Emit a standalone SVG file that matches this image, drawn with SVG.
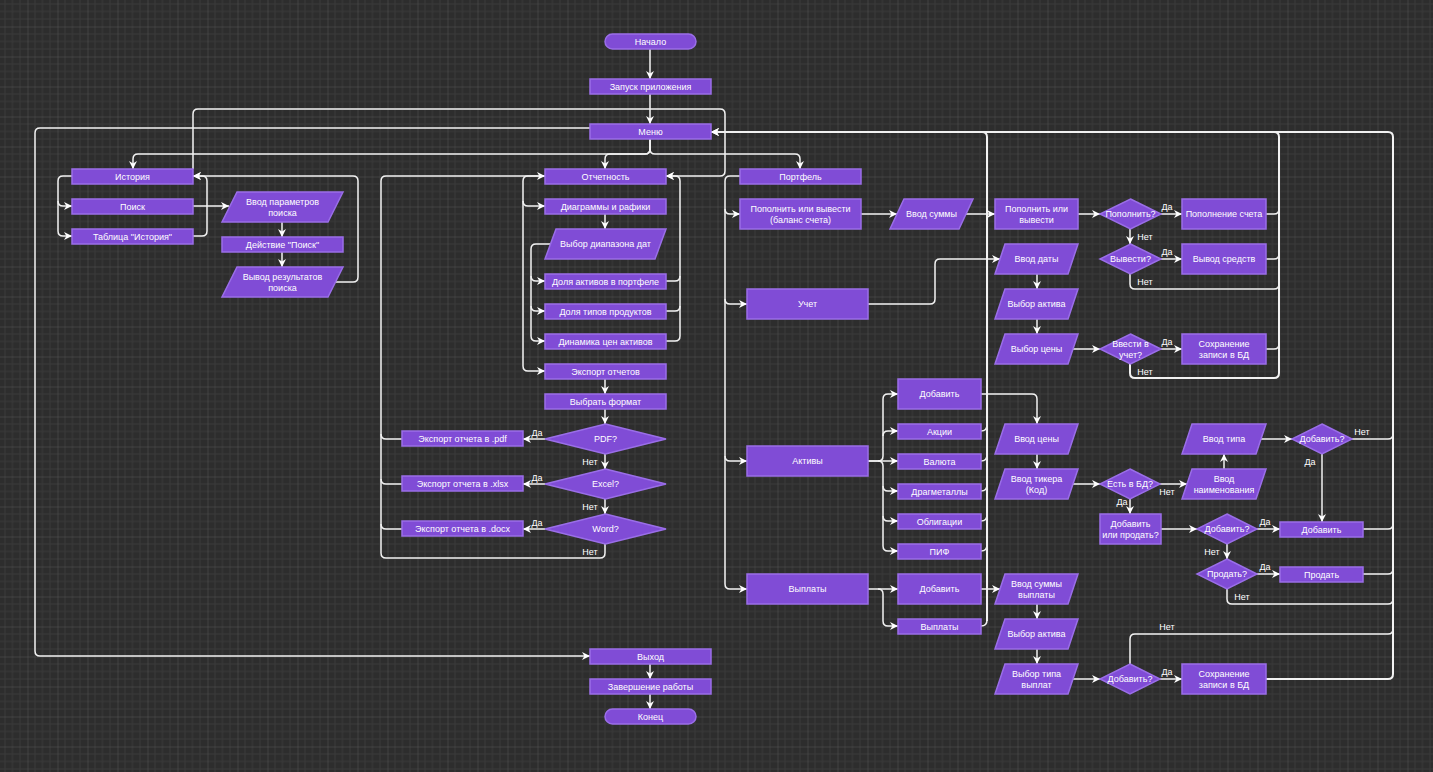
<svg xmlns="http://www.w3.org/2000/svg" width="1433" height="772" viewBox="0 0 1433 772">
<defs>
<pattern id="g" width="30" height="30" patternUnits="userSpaceOnUse" patternTransform="translate(27.5,26.5)">
<rect width="30" height="30" fill="#2d2d2d"/>
<path d="M7.5,0V30M15,0V30M22.5,0V30M0,7.5H30M0,15H30M0,22.5H30" stroke="#3a3a3a" stroke-width="1"/>
<path d="M0,0V30M0,0H30" stroke="#555" stroke-width="1"/>
</pattern>
<marker id="a" viewBox="0 0 10 10" refX="10" refY="5" markerWidth="8" markerHeight="8" markerUnits="userSpaceOnUse" orient="auto">
<path d="M0,0 L10,5 L0,10 L3,5 z" fill="#fff"/>
</marker>
<style>
.n{fill:#804cd6;stroke:#9a6ee8;stroke-width:1.5}
.t{font-family:"Liberation Sans",Arial,sans-serif;font-size:9px;fill:#fff;text-anchor:middle}
.l{font-family:"Liberation Sans",Arial,sans-serif;font-size:9px;fill:#fff;text-anchor:middle}
.c path{fill:none;stroke:#f2f2f2;stroke-width:1.5}
.c path.m{marker-end:url(#a)}
</style>
</defs>
<rect width="1433" height="772" fill="url(#g)"/>

<g class="c" id="connectors">
<path class="m" d="M650,49 L650,79"/>
<path class="m" d="M650,94 L650,124"/>
<path class="m" d="M650,139 L650,149 Q650,154 645,154 L138,154 Q133,154 133,159 L133,169"/>
<path class="m" d="M650,139 L650,149 Q650,154 645,154 L610,154 Q605,154 605,159 L605,169"/>
<path class="m" d="M650,139 L650,149 Q650,154 655,154 L795,154 Q800,154 800,159 L800,169"/>
<path class="m" d="M590,128 L40,128 Q35,128 35,133 L35,651 Q35,656 40,656 L590,656"/>
<path class="m" d="M193,169 L193,114 Q193,109 198,109 L720,109 Q725,109 725,114 L725,171 Q725,176 720,176 L666,176"/>
<path class="m" d="M987,621 L987,137 Q987,132 982,132 L711,132" style="stroke-width:2"/>
<path d="M981,431 Q987,431 987,425"/>
<path d="M981,461 Q987,461 987,455"/>
<path d="M981,491 Q987,491 987,485"/>
<path d="M981,521 Q987,521 987,515"/>
<path d="M981,551 Q987,551 987,545"/>
<path d="M981,626 Q987,626 987,620"/>
<path class="m" d="M1130,364 L1130,373 Q1130,378 1135,378 L1274,378 Q1279,378 1279,373 L1279,137 Q1279,132 1274,132 L711,132" style="stroke-width:2"/>
<path d="M1266,214 L1274,214 Q1279,214 1279,209"/>
<path d="M1266,259 L1274,259 Q1279,259 1279,254"/>
<path d="M1130,274 L1130,284 Q1130,289 1135,289 L1274,289 Q1279,289 1279,284"/>
<path d="M1266,349 L1274,349 Q1279,349 1279,344"/>
<path class="m" d="M1266,679 L1388,679 Q1393,679 1393,674 L1393,137 Q1393,132 1388,132 L711,132" style="stroke-width:2"/>
<path d="M1352,439 L1388,439 Q1393,439 1393,434"/>
<path d="M1363,529 L1388,529 Q1393,529 1393,524"/>
<path d="M1363,574 L1388,574 Q1393,574 1393,569"/>
<path d="M1227,589 L1227,599 Q1227,604 1232,604 L1388,604 Q1393,604 1393,599"/>
<path d="M1130,664 L1130,639 Q1130,634 1135,634 L1388,634 Q1393,634 1393,629"/>

<path class="m" d="M740,176 L730,176 Q725,176 725,181 L725,209 Q725,214 730,214 L740,214"/>
<path class="m" d="M725,209 L725,299 Q725,304 730,304 L747,304"/>
<path class="m" d="M725,299 L725,456 Q725,461 730,461 L747,461"/>
<path class="m" d="M725,456 L725,584 Q725,589 730,589 L747,589"/>
<path class="m" d="M861,214 L897,214"/>
<path class="m" d="M966,214 L995,214"/>
<path class="m" d="M1078,214 L1100,214"/>
<path class="m" d="M1161,214 L1182,214"/>
<path class="m" d="M1130,229 L1130,244"/>
<path class="m" d="M1161,259 L1182,259"/>
<path class="m" d="M868,304 L930,304 Q935,304 935,299 L935,264 Q935,259 940,259 L1000,259"/>
<path class="m" d="M1037,274 L1037,289"/>
<path class="m" d="M1037,319 L1037,334"/>
<path class="m" d="M1073,349 L1100,349"/>
<path class="m" d="M1161,349 L1182,349"/>

<path class="m" d="M868,461 L878,461 Q883,461 883,456 L883,399 Q883,394 888,394 L898,394"/>
<path class="m" d="M883,436 Q883,431 888,431 L898,431"/>
<path class="m" d="M868,461 L898,461"/>
<path class="m" d="M878,461 Q883,461 883,466 L883,486 Q883,491 888,491 L898,491"/>
<path class="m" d="M883,486 L883,516 Q883,521 888,521 L898,521"/>
<path class="m" d="M883,516 L883,546 Q883,551 888,551 L898,551"/>
<path class="m" d="M981,394 L1032,394 Q1037,394 1037,399 L1037,424"/>
<path class="m" d="M1037,454 L1037,469"/>
<path class="m" d="M1073,484 L1100,484"/>
<path class="m" d="M1160,484 L1187,484"/>
<path class="m" d="M1130,499 L1130,514"/>
<path class="m" d="M1224,469 L1224,454"/>
<path class="m" d="M1261,439 L1292,439"/>
<path class="m" d="M1322,454 L1322,522"/>
<path class="m" d="M1161,529 L1197,529"/>
<path class="m" d="M1257,529 L1280,529"/>
<path class="m" d="M1227,544 L1227,559"/>
<path class="m" d="M1257,574 L1280,574"/>

<path class="m" d="M868,589 L898,589"/>
<path class="m" d="M878,589 Q883,589 883,594 L883,621 Q883,626 888,626 L898,626"/>
<path class="m" d="M981,589 L1000,589"/>
<path class="m" d="M1037,604 L1037,619"/>
<path class="m" d="M1037,649 L1037,664"/>
<path class="m" d="M1073,679 L1100,679"/>
<path class="m" d="M1160,679 L1182,679"/>

<path class="m" d="M545,176 L528,176 Q523,176 523,181 L523,201 Q523,206 528,206 L545,206"/>
<path class="m" d="M523,201 L523,366 Q523,371 528,371 L545,371"/>
<path class="m" d="M605,214 L605,229"/>
<path class="m" d="M550,244 L536,244 Q531,244 531,249 L531,276 Q531,281 536,281 L545,281"/>
<path class="m" d="M531,276 L531,306 Q531,311 536,311 L545,311"/>
<path class="m" d="M531,306 L531,336 Q531,341 536,341 L545,341"/>
<path class="m" d="M666,341 L675,341 Q680,341 680,336 L680,181 Q680,176 675,176 L666,176"/>
<path d="M666,281 L675,281 Q680,281 680,276"/>
<path d="M666,311 L675,311 Q680,311 680,306"/>
<path class="m" d="M605,379 L605,394"/>
<path class="m" d="M605,409 L605,424"/>
<path class="m" d="M545,439 L523,439"/>
<path class="m" d="M605,454 L605,469"/>
<path class="m" d="M545,484 L523,484"/>
<path class="m" d="M605,499 L605,514"/>
<path class="m" d="M545,529 L523,529"/>
<path class="m" d="M605,544 L605,553 Q605,558 600,558 L386,558 Q381,558 381,553 L381,181 Q381,176 386,176 L545,176"/>
<path d="M402,439 L386,439 Q381,439 381,434"/>
<path d="M402,484 L386,484 Q381,484 381,479"/>
<path d="M402,529 L386,529 Q381,529 381,524"/>

<path class="m" d="M72,176 L63,176 Q58,176 58,181 L58,201 Q58,206 63,206 L72,206"/>
<path class="m" d="M58,201 L58,231 Q58,236 63,236 L72,236"/>
<path class="m" d="M193,236 L202,236 Q207,236 207,231 L207,181 Q207,176 202,176 L193,176"/>
<path class="m" d="M193,206 L229,206"/>
<path class="m" d="M282,222 L282,237"/>
<path class="m" d="M282,252 L282,267"/>
<path class="m" d="M336,282 L353,282 Q358,282 358,277 L358,181 Q358,176 353,176 L193,176"/>

<path class="m" d="M650,664 L650,679"/>
<path class="m" d="M650,694 L650,709"/>
</g>

<g id="labels">
<text class="l" x="537" y="436">Да</text>
<text class="l" x="590" y="465">Нет</text>
<text class="l" x="537" y="481">Да</text>
<text class="l" x="590" y="510">Нет</text>
<text class="l" x="537" y="526">Да</text>
<text class="l" x="590" y="555">Нет</text>
<text class="l" x="1167" y="210">Да</text>
<text class="l" x="1145" y="240">Нет</text>
<text class="l" x="1167" y="255">Да</text>
<text class="l" x="1145" y="285">Нет</text>
<text class="l" x="1167" y="345">Да</text>
<text class="l" x="1145" y="375">Нет</text>
<text class="l" x="1167" y="495">Нет</text>
<text class="l" x="1122" y="505">Да</text>
<text class="l" x="1362" y="435">Нет</text>
<text class="l" x="1310" y="465">Да</text>
<text class="l" x="1265" y="525">Да</text>
<text class="l" x="1212" y="555">Нет</text>
<text class="l" x="1265" y="570">Да</text>
<text class="l" x="1242" y="600">Нет</text>
<text class="l" x="1167" y="675">Да</text>
<text class="l" x="1167" y="630">Нет</text>
</g>

<g id="start"><rect class="n" x="605" y="34" width="91" height="15" rx="7.5"/><text class="t" x="650.5" y="44.7">Начало</text></g>
<g id="launch"><rect class="n" x="590" y="79" width="121" height="15"/><text class="t" x="650.5" y="89.7">Запуск приложения</text></g>
<g id="menu"><rect class="n" x="590" y="124" width="121" height="15"/><text class="t" x="650.5" y="134.7">Меню</text></g>
<g id="history"><rect class="n" x="72" y="169" width="121" height="15"/><text class="t" x="132.5" y="179.7">История</text></g>
<g id="search"><rect class="n" x="72" y="199" width="121" height="15"/><text class="t" x="132.5" y="209.7">Поиск</text></g>
<g id="histTable"><rect class="n" x="72" y="229" width="121" height="15"/><text class="t" x="132.5" y="239.7">Таблица "История"</text></g>
<g id="searchParams"><polygon class="n" points="237,192 343,192 328,222 222,222"/><text class="t" x="282.5" y="204.5">Ввод параметров<tspan x="282.5" dy="11">поиска</tspan></text></g>
<g id="searchAction"><rect class="n" x="222" y="237" width="121" height="15"/><text class="t" x="282.5" y="247.7">Действие "Поиск"</text></g>
<g id="searchResult"><polygon class="n" points="237,267 343,267 328,297 222,297"/><text class="t" x="282.5" y="279.5">Вывод результатов<tspan x="282.5" dy="11">поиска</tspan></text></g>

<g id="reports"><rect class="n" x="545" y="169" width="121" height="15"/><text class="t" x="605.5" y="179.7">Отчетность</text></g>
<g id="charts"><rect class="n" x="545" y="199" width="121" height="15"/><text class="t" x="605.5" y="209.7">Диаграммы и рафики</text></g>
<g id="dateRange"><polygon class="n" points="556,229 666,229 655,259 545,259"/><text class="t" x="605.5" y="247.2">Выбор диапазона дат</text></g>
<g id="assetShare"><rect class="n" x="545" y="274" width="121" height="15"/><text class="t" x="605.5" y="284.7">Доля активов в портфеле</text></g>
<g id="typeShare"><rect class="n" x="545" y="304" width="121" height="15"/><text class="t" x="605.5" y="314.7">Доля типов продуктов</text></g>
<g id="priceDyn"><rect class="n" x="545" y="334" width="121" height="15"/><text class="t" x="605.5" y="344.7">Динамика цен активов</text></g>
<g id="export"><rect class="n" x="545" y="364" width="121" height="15"/><text class="t" x="605.5" y="374.7">Экспорт отчетов</text></g>
<g id="chooseFmt"><rect class="n" x="545" y="394" width="121" height="15"/><text class="t" x="605.5" y="404.7">Выбрать формат</text></g>
<g id="pdfQ"><polygon class="n" points="605.5,424 666,439 605.5,454 545,439"/><text class="t" x="605.5" y="442.2">PDF?</text></g>
<g id="excelQ"><polygon class="n" points="605.5,469 666,484 605.5,499 545,484"/><text class="t" x="605.5" y="487.2">Excel?</text></g>
<g id="wordQ"><polygon class="n" points="605.5,514 666,529 605.5,544 545,529"/><text class="t" x="605.5" y="532.2">Word?</text></g>
<g id="expPdf"><rect class="n" x="402" y="431" width="121" height="15"/><text class="t" x="462.5" y="441.7">Экспорт отчета в .pdf</text></g>
<g id="expXlsx"><rect class="n" x="402" y="476" width="121" height="15"/><text class="t" x="462.5" y="486.7">Экспорт отчета в .xlsx</text></g>
<g id="expDocx"><rect class="n" x="402" y="521" width="121" height="15"/><text class="t" x="462.5" y="531.7">Экспорт отчета в .docx</text></g>

<g id="portfolio"><rect class="n" x="740" y="169" width="121" height="15"/><text class="t" x="800.5" y="179.7">Портфель</text></g>
<g id="topupWithdraw"><rect class="n" x="740" y="199" width="121" height="30"/><text class="t" x="800.5" y="211.5">Пополнить или вывести<tspan x="800.5" dy="11">(баланс счета)</tspan></text></g>
<g id="enterSum"><polygon class="n" points="904,199 973,199 959,229 890,229"/><text class="t" x="931.5" y="217.2">Ввод суммы</text></g>
<g id="topupOrW"><rect class="n" x="995" y="199" width="83" height="30"/><text class="t" x="1036.5" y="211.5">Пополнить или<tspan x="1036.5" dy="11">вывести</tspan></text></g>
<g id="topupQ"><polygon class="n" points="1130.5,199 1161,214 1130.5,229 1100,214"/><text class="t" x="1130.5" y="217.2">Пополнить?</text></g>
<g id="topupDone"><rect class="n" x="1182" y="199" width="84" height="30"/><text class="t" x="1224" y="217.2">Пополнение счета</text></g>
<g id="withdrawQ"><polygon class="n" points="1130.5,244 1161,259 1130.5,274 1100,259"/><text class="t" x="1130.5" y="262.2">Вывести?</text></g>
<g id="withdrawDone"><rect class="n" x="1182" y="244" width="84" height="30"/><text class="t" x="1224" y="262.2">Вывод средств</text></g>
<g id="accounting"><rect class="n" x="747" y="289" width="121" height="30"/><text class="t" x="807.5" y="307.2">Учет</text></g>
<g id="enterDate"><polygon class="n" points="1005,244 1078,244 1068,274 995,274"/><text class="t" x="1036.5" y="262.2">Ввод даты</text></g>
<g id="chooseAsset1"><polygon class="n" points="1005,289 1078,289 1068,319 995,319"/><text class="t" x="1036.5" y="307.2">Выбор актива</text></g>
<g id="choosePrice"><polygon class="n" points="1005,334 1078,334 1068,364 995,364"/><text class="t" x="1036.5" y="352.2">Выбор цены</text></g>
<g id="recordQ"><polygon class="n" points="1130.5,334 1161,349 1130.5,364 1100,349"/><text class="t" x="1130.5" y="346.5">Ввести в<tspan x="1130.5" dy="11">учет?</tspan></text></g>
<g id="saveRec1"><rect class="n" x="1182" y="334" width="84" height="30"/><text class="t" x="1224" y="346.5">Сохранение<tspan x="1224" dy="11">записи в БД</tspan></text></g>

<g id="assets"><rect class="n" x="747" y="446" width="121" height="30"/><text class="t" x="807.5" y="464.2">Активы</text></g>
<g id="assetAdd"><rect class="n" x="898" y="379" width="83" height="30"/><text class="t" x="939.5" y="397.2">Добавить</text></g>
<g id="stocks"><rect class="n" x="898" y="424" width="83" height="15"/><text class="t" x="939.5" y="434.7">Акции</text></g>
<g id="currency"><rect class="n" x="898" y="454" width="83" height="15"/><text class="t" x="939.5" y="464.7">Валюта</text></g>
<g id="metals"><rect class="n" x="898" y="484" width="83" height="15"/><text class="t" x="939.5" y="494.7">Драгметаллы</text></g>
<g id="bonds"><rect class="n" x="898" y="514" width="83" height="15"/><text class="t" x="939.5" y="524.7">Облигации</text></g>
<g id="pif"><rect class="n" x="898" y="544" width="83" height="15"/><text class="t" x="939.5" y="554.7">ПИФ</text></g>
<g id="enterPrice"><polygon class="n" points="1005,424 1078,424 1068,454 995,454"/><text class="t" x="1036.5" y="442.2">Ввод цены</text></g>
<g id="enterTicker"><polygon class="n" points="1005,469 1078,469 1068,499 995,499"/><text class="t" x="1036.5" y="481.5">Ввод тикера<tspan x="1036.5" dy="11">(Код)</tspan></text></g>
<g id="inDbQ"><polygon class="n" points="1130,469 1160,484 1130,499 1100,484"/><text class="t" x="1130" y="487.2">Есть в БД?</text></g>
<g id="enterName"><polygon class="n" points="1192,469 1266,469 1256,499 1182,499"/><text class="t" x="1224" y="481.5">Ввод<tspan x="1224" dy="11">наименования</tspan></text></g>
<g id="enterType"><polygon class="n" points="1192,424 1266,424 1256,454 1182,454"/><text class="t" x="1224" y="442.2">Ввод типа</text></g>
<g id="addQ1"><polygon class="n" points="1322,424 1352,439 1322,454 1292,439"/><text class="t" x="1322" y="442.2">Добавить?</text></g>
<g id="addOrSell"><rect class="n" x="1100" y="514" width="61" height="30"/><text class="t" x="1130.5" y="526.5">Добавить<tspan x="1130.5" dy="11">или продать?</tspan></text></g>
<g id="addQ2"><polygon class="n" points="1227,514 1257,529 1227,544 1197,529"/><text class="t" x="1227" y="532.2">Добавить?</text></g>
<g id="addBox"><rect class="n" x="1280" y="522" width="83" height="15"/><text class="t" x="1321.5" y="532.7">Добавить</text></g>
<g id="sellQ"><polygon class="n" points="1227,559 1257,574 1227,589 1197,574"/><text class="t" x="1227" y="577.2">Продать?</text></g>
<g id="sellBox"><rect class="n" x="1280" y="567" width="83" height="15"/><text class="t" x="1321.5" y="577.7">Продать</text></g>

<g id="payments"><rect class="n" x="747" y="574" width="121" height="30"/><text class="t" x="807.5" y="592.2">Выплаты</text></g>
<g id="payAdd"><rect class="n" x="898" y="574" width="83" height="30"/><text class="t" x="939.5" y="592.2">Добавить</text></g>
<g id="payList"><rect class="n" x="898" y="619" width="83" height="15"/><text class="t" x="939.5" y="629.7">Выплаты</text></g>
<g id="enterPaySum"><polygon class="n" points="1005,574 1078,574 1068,604 995,604"/><text class="t" x="1036.5" y="586.5">Ввод суммы<tspan x="1036.5" dy="11">выплаты</tspan></text></g>
<g id="chooseAsset2"><polygon class="n" points="1005,619 1078,619 1068,649 995,649"/><text class="t" x="1036.5" y="637.2">Выбор актива</text></g>
<g id="choosePayType"><polygon class="n" points="1005,664 1078,664 1068,694 995,694"/><text class="t" x="1036.5" y="676.5">Выбор типа<tspan x="1036.5" dy="11">выплат</tspan></text></g>
<g id="addQ3"><polygon class="n" points="1130,664 1160,679 1130,694 1100,679"/><text class="t" x="1130" y="682.2">Добавить?</text></g>
<g id="saveRec2"><rect class="n" x="1182" y="664" width="84" height="30"/><text class="t" x="1224" y="676.5">Сохранение<tspan x="1224" dy="11">записи в БД</tspan></text></g>

<g id="exit"><rect class="n" x="590" y="649" width="121" height="15"/><text class="t" x="650.5" y="659.7">Выход</text></g>
<g id="finish"><rect class="n" x="590" y="679" width="121" height="15"/><text class="t" x="650.5" y="689.7">Завершение работы</text></g>
<g id="end"><rect class="n" x="605" y="709" width="91" height="15" rx="7.5"/><text class="t" x="650.5" y="719.7">Конец</text></g>
</svg>
